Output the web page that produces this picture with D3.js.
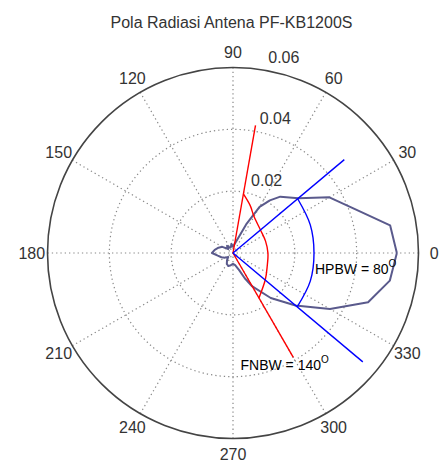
<!DOCTYPE html>
<html>
<head>
<meta charset="utf-8">
<script src="https://cdn.jsdelivr.net/npm/d3@7"></script>
<style>
  body { margin: 0; background: #fff; }
  svg { display: block; }
</style>
</head>
<body>
<div id="chart"></div>
<script>
// Polar radiation pattern, MATLAB style
const width = 439;
const height = 464;
const center = {x: 233, y: 253};
const outerRadius = 185.5;
const labelFactor = 1.085;

const chartTitle = "Pola Radiasi Antena PF-KB1200S";

// Grid ticks
const angleTicks = [0, 30, 60, 90, 120, 150, 180, 210, 240, 270, 300, 330];
const radialTicks = [0.02, 0.04, 0.06];
const radialMax = 0.06;

// Measured pattern (degrees, gain)
const patternAngle = [0, 10, 20, 30, 40, 50, 55, 60, 65, 70, 80, 90, 100, 110, 120, 130, 140, 150, 160, 170, 180,
  190, 200, 210, 220, 230, 240, 250, 260, 270, 280, 290, 295, 300, 310, 320, 330, 340, 350, 360];
const patternGain = [0.053, 0.0516, 0.0418, 0.036, 0.0276, 0.0238, 0.0208, 0.0172, 0.0105, 0.0055, 0.003, 0.002, 0.003, 0.002, 0.002, 0.003, 0.002, 0.004, 0.005, 0.006, 0.0068,
  0.005, 0.004, 0.003, 0.002, 0.003, 0.004, 0.0045, 0.004, 0.0035, 0.004, 0.006, 0.009, 0.0125, 0.019, 0.0264, 0.0362, 0.0465, 0.0515, 0.053];

// Half power beam width marks
const hpbwAngle = [40, -40];
const hpbwLength = [0.047, 0.0548];
const hpbwArcAngle = [40, 20, 0, -20, -40];
const hpbwArcRadius = [0.0273, 0.0266, 0.0262, 0.0266, 0.0271];

// First null beam width marks
const fnbwAngle = [80, -60];
const fnbwLength = [0.0419, 0.039];
const fnbwArcAngle = [80, 70, 60, 40, 20, 0, -20, -40, -60];
const fnbwArcRadius = [0.0194, 0.0163, 0.0136, 0.0116, 0.0112, 0.0113, 0.0118, 0.0136, 0.0168];

const fontFamily = "'Liberation Sans', Arial, Helvetica, sans-serif";

// Scales: MATLAB angle (ccw from east) -> d3 radial angle (cw from north)
const r = d3.scaleLinear().domain([0, radialMax]).range([0, outerRadius]);
const theta = d3.scaleLinear().domain([0, 360]).range([Math.PI / 2, Math.PI / 2 - 2 * Math.PI]);

const px = (deg, v) => r(v) * Math.sin(theta(deg));
const py = (deg, v) => -r(v) * Math.cos(theta(deg));

const svg = d3.select("#chart").append("svg")
  .attr("width", width)
  .attr("height", height);

// Title
svg.append("text")
  .attr("x", 231.5)
  .attr("y", 28)
  .attr("text-anchor", "middle")
  .attr("fill", "#333")
  .attr("font-size", "16px")
  .attr("font-family", fontFamily)
  .text(chartTitle);

const g = svg.append("g")
  .attr("transform", `translate(${center.x},${center.y})`);

// Dotted rings
g.selectAll(".ring")
  .data(radialTicks.filter(d => d < radialMax))
  .join("circle")
  .attr("class", "ring")
  .attr("r", d => r(d))
  .attr("fill", "none")
  .attr("stroke", "#888")
  .attr("stroke-width", 1.2)
  .attr("stroke-dasharray", "1.3,3");

// Dotted spokes (full diameters)
g.selectAll(".spoke")
  .data(angleTicks.filter(d => d < 180))
  .join("line")
  .attr("class", "spoke")
  .attr("x1", d => px(d + 180, radialMax))
  .attr("y1", d => py(d + 180, radialMax))
  .attr("x2", d => px(d, radialMax))
  .attr("y2", d => py(d, radialMax))
  .attr("stroke", "#888")
  .attr("stroke-width", 1.2)
  .attr("stroke-dasharray", "1.3,3");

// Outer circle
g.append("circle")
  .attr("r", r(radialMax))
  .attr("fill", "none")
  .attr("stroke", "#444")
  .attr("stroke-width", 1.6);

// Angle labels
g.selectAll(".angle-label")
  .data(angleTicks)
  .join("text")
  .attr("class", "angle-label")
  .attr("x", d => px(d, radialMax * labelFactor))
  .attr("y", d => py(d, radialMax * labelFactor))
  .attr("dy", "0.36em")
  .attr("text-anchor", "middle")
  .attr("fill", "#333")
  .attr("font-size", "16px")
  .attr("font-family", fontFamily)
  .text(d => d);

// Radial labels at 82 degrees
g.selectAll(".radial-label")
  .data(radialTicks)
  .join("text")
  .attr("class", "radial-label")
  .attr("x", d => px(82, d + 0.001) + 9)
  .attr("y", d => py(82, d + 0.001) - 3)
  .attr("fill", "#333")
  .attr("font-size", "16px")
  .attr("font-family", fontFamily)
  .text(d => d.toFixed(2));

// Pattern
const radialLine = d3.lineRadial()
  .angle(d => theta(d[0]))
  .radius(d => r(d[1]));

g.append("path")
  .datum(d3.zip(patternAngle, patternGain))
  .attr("d", radialLine)
  .attr("fill", "none")
  .attr("stroke", "#5a5a8c")
  .attr("stroke-width", 2)
  .attr("stroke-linejoin", "round");

// FNBW lines and arc
g.selectAll(".fnbw")
  .data(d3.zip(fnbwAngle, fnbwLength))
  .join("line")
  .attr("class", "fnbw")
  .attr("x1", 0).attr("y1", 0)
  .attr("x2", d => px(d[0], d[1]))
  .attr("y2", d => py(d[0], d[1]))
  .attr("stroke", "#ff0000")
  .attr("stroke-width", 1.4);

g.append("path")
  .datum(d3.zip(fnbwArcAngle, fnbwArcRadius))
  .attr("d", radialLine.curve(d3.curveCardinal))
  .attr("fill", "none")
  .attr("stroke", "#ff0000")
  .attr("stroke-width", 1.4);

// HPBW lines and arc
g.selectAll(".hpbw")
  .data(d3.zip(hpbwAngle, hpbwLength))
  .join("line")
  .attr("class", "hpbw")
  .attr("x1", 0).attr("y1", 0)
  .attr("x2", d => px(d[0], d[1]))
  .attr("y2", d => py(d[0], d[1]))
  .attr("stroke", "#0000ff")
  .attr("stroke-width", 1.4);

g.append("path")
  .datum(d3.zip(hpbwArcAngle, hpbwArcRadius))
  .attr("d", radialLine.curve(d3.curveCardinal))
  .attr("fill", "none")
  .attr("stroke", "#0000ff")
  .attr("stroke-width", 1.4);

// Annotations
function addAnnotation(x, y, label) {
  const t = g.append("text")
    .attr("x", x)
    .attr("y", y)
    .attr("fill", "#000")
    .attr("font-size", "14px")
    .attr("font-family", fontFamily);
  t.append("tspan").text(label);
  t.append("tspan")
    .attr("dy", -7)
    .attr("font-size", "10px")
    .text("O");
}

addAnnotation(82, 21, "HPBW = 80");
addAnnotation(7.5, 117, "FNBW = 140");
</script>
</body>
</html>
